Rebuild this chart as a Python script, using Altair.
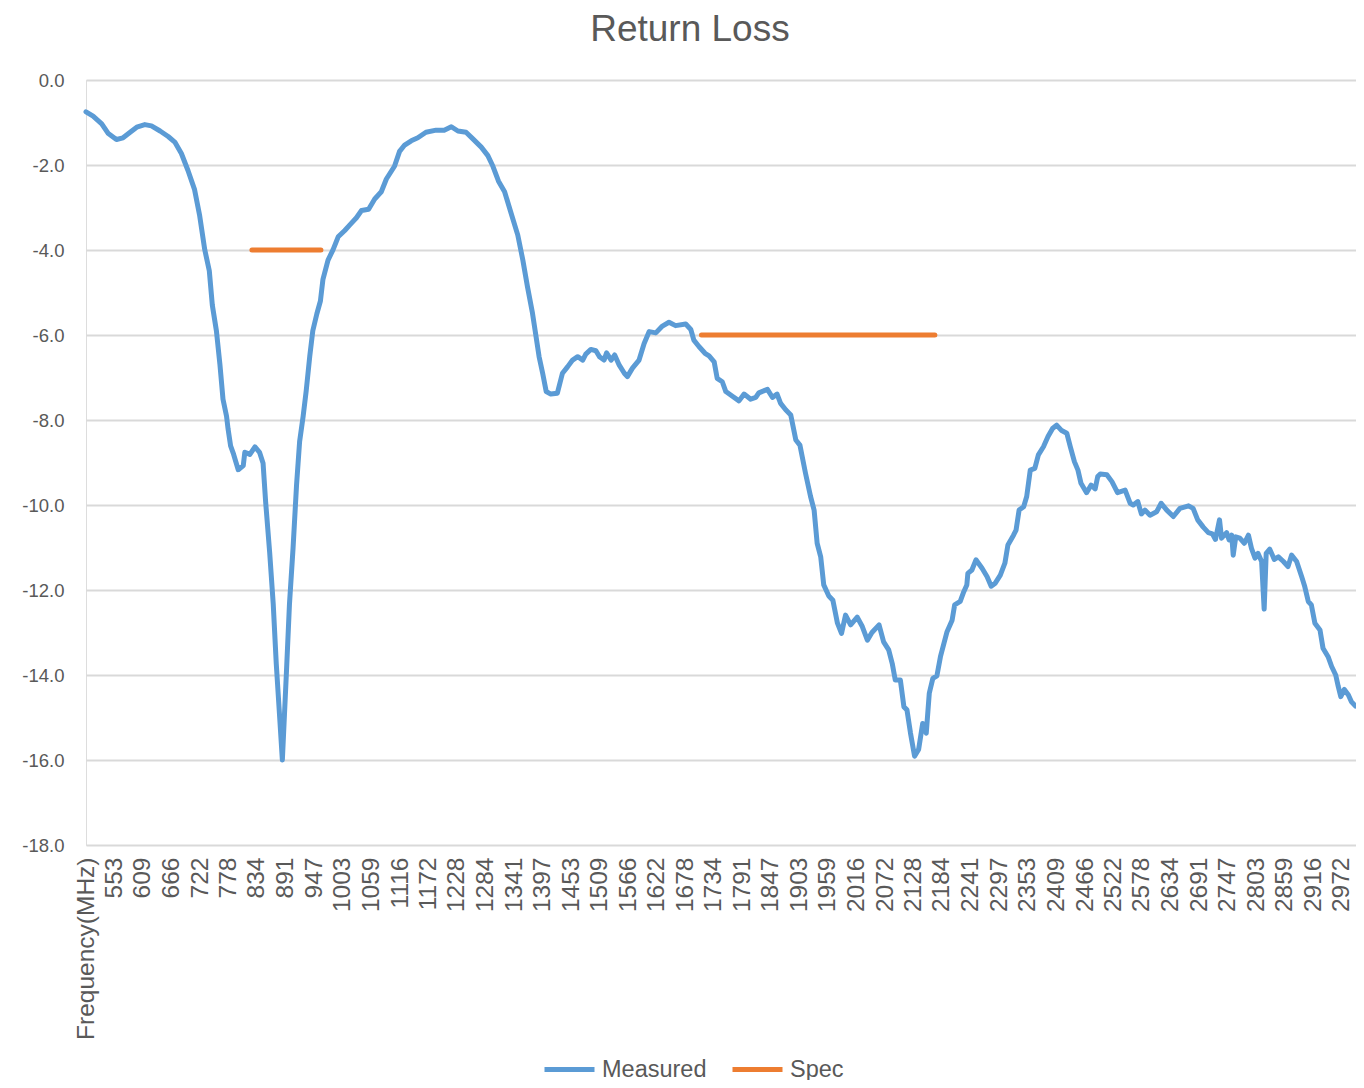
import altair as alt
import pandas as pd

TITLE = "Return Loss"
FONT = "Liberation Sans"
GREY = "#595959"

x_labels = ["Frequency(MHz)", "553", "609", "666", "722", "778", "834", "891", "947",
            "1003", "1059", "1116", "1172", "1228", "1284", "1341", "1397", "1453",
            "1509", "1566", "1622", "1678", "1734", "1791", "1847", "1903", "1959",
            "2016", "2072", "2128", "2184", "2241", "2297", "2353", "2409", "2466",
            "2522", "2578", "2634", "2691", "2747", "2803", "2859", "2916", "2972"]
x_first_mhz = 497
y_ticks = [0.0, -2.0, -4.0, -6.0, -8.0, -10.0, -12.0, -14.0, -16.0, -18.0]

meas_mhz_a = [497, 511, 528, 541, 557, 570, 584, 597, 613, 626, 643, 659, 672, 685, 698,
              711, 721, 731, 740, 746, 754, 761, 767, 774, 777, 782, 788, 797, 807, 810,
              820, 830, 839, 846, 851, 859, 866, 872, 879, 884]
meas_db_a = [-0.75, -0.85, -1.03, -1.26, -1.40, -1.36, -1.23, -1.11, -1.05, -1.08, -1.20,
             -1.33, -1.46, -1.73, -2.13, -2.58, -3.19, -3.99, -4.49, -5.30, -5.90, -6.70,
             -7.51, -7.91, -8.21, -8.61, -8.81, -9.17, -9.07, -8.76, -8.81, -8.63, -8.76,
             -9.02, -9.92, -11.12, -12.33, -13.74, -15.05, -16.0]

meas_mhz_b = [892, 898, 905, 912, 918, 925, 931, 938, 944, 952, 959, 964, 974, 984, 994,
              1007, 1017, 1030, 1040, 1054, 1066, 1079, 1089, 1105, 1115, 1125, 1138, 1151,
              1167, 1187, 1203, 1217, 1230, 1246, 1259, 1276, 1289, 1299, 1310]
meas_db_b = [-13.94, -12.33, -11.03, -9.52, -8.51, -7.91, -7.31, -6.50, -5.90, -5.50, -5.20,
             -4.69, -4.24, -3.99, -3.69, -3.54, -3.41, -3.24, -3.07, -3.04, -2.80, -2.63,
             -2.33, -2.03, -1.68, -1.53, -1.43, -1.36, -1.23, -1.18, -1.18, -1.10, -1.20,
             -1.23, -1.38, -1.58, -1.78, -2.03, -2.38]

meas_mhz_c = [1322, 1335, 1348, 1358, 1367, 1377, 1384, 1390, 1397, 1404, 1413, 1426, 1436,
              1446, 1456, 1466, 1476, 1482, 1492, 1502, 1509, 1518, 1523, 1532, 1539, 1548,
              1558, 1564, 1574, 1587, 1597, 1607, 1620, 1633, 1646, 1659, 1679, 1689, 1695,
              1705, 1717, 1725, 1735, 1741]
meas_db_c = [-2.63, -3.14, -3.65, -4.24, -4.86, -5.49, -6.04, -6.51, -6.90, -7.33, -7.39,
             -7.37, -6.90, -6.75, -6.59, -6.51, -6.59, -6.45, -6.34, -6.37, -6.51, -6.59,
             -6.42, -6.59, -6.47, -6.71, -6.90, -6.98, -6.78, -6.59, -6.20, -5.92, -5.95,
             -5.79, -5.70, -5.78, -5.74, -5.87, -6.12, -6.27, -6.43, -6.49, -6.63, -7.02]

meas_mhz_d = [1751, 1758, 1771, 1784, 1794, 1807, 1817, 1823, 1840, 1850, 1859, 1866, 1876,
              1886, 1896, 1904, 1915, 1925, 1932, 1938, 1945, 1951, 1961, 1969, 1978, 1986,
              1994, 2004, 2017, 2027, 2037, 2046, 2060, 2069, 2079, 2086, 2092, 2102, 2109,
              2115, 2122, 2130, 2138, 2146, 2153, 2159, 2166, 2174, 2181]
meas_db_d = [-7.10, -7.33, -7.44, -7.55, -7.39, -7.51, -7.47, -7.36, -7.28, -7.47, -7.39,
             -7.61, -7.76, -7.88, -8.47, -8.59, -9.25, -9.80, -10.12, -10.90, -11.22, -11.88,
             -12.14, -12.24, -12.78, -13.02, -12.59, -12.82, -12.64, -12.86, -13.18, -13.00,
             -12.82, -13.22, -13.41, -13.73, -14.12, -14.12, -14.75, -14.82, -15.37, -15.91,
             -15.75, -15.14, -15.37, -14.43, -14.08, -14.02, -13.57]

meas_mhz_e = [2188, 2194, 2204, 2209, 2220, 2227, 2233, 2235, 2243, 2251, 2263, 2273, 2281,
              2289, 2299, 2308, 2314, 2325, 2330, 2336, 2345, 2351, 2358, 2367, 2374, 2384,
              2393, 2402, 2410, 2419, 2430, 2437, 2445, 2452, 2458, 2469, 2478, 2486, 2491,
              2496, 2509, 2519, 2530, 2545, 2555, 2561, 2570, 2577, 2584, 2594, 2607, 2616,
              2627, 2640, 2653, 2670, 2679]
meas_db_e = [-13.25, -12.98, -12.71, -12.35, -12.27, -12.04, -11.88, -11.61, -11.53, -11.29,
             -11.49, -11.69, -11.91, -11.84, -11.65, -11.37, -10.94, -10.71, -10.59, -10.12,
             -10.04, -9.80, -9.18, -9.14, -8.82, -8.63, -8.39, -8.20, -8.12, -8.24, -8.31,
             -8.63, -8.98, -9.18, -9.49, -9.71, -9.53, -9.62, -9.33, -9.27, -9.29, -9.45,
             -9.71, -9.65, -9.96, -10.00, -9.92, -10.21, -10.12, -10.24, -10.16, -9.96,
             -10.12, -10.27, -10.08, -10.02, -10.08]

meas_mhz_f = [2688, 2699, 2709, 2717, 2723, 2731, 2735, 2745, 2750, 2755, 2758, 2763, 2771,
              2780, 2788, 2794, 2801, 2807, 2814, 2819, 2823, 2830, 2839, 2847, 2857, 2866,
              2873, 2883, 2893, 2899, 2906, 2912, 2919, 2929, 2935, 2945, 2952, 2960, 2965,
              2970, 2977, 2985, 2991, 2999]
meas_db_f = [-10.35, -10.52, -10.65, -10.68, -10.81, -10.35, -10.78, -10.65, -10.82, -10.71,
             -11.18, -10.75, -10.78, -10.90, -10.71, -11.02, -11.25, -11.14, -11.33, -12.45,
             -11.14, -11.04, -11.28, -11.22, -11.33, -11.45, -11.18, -11.33, -11.69, -11.92,
             -12.27, -12.35, -12.78, -12.94, -13.37, -13.57, -13.80, -14.00, -14.27, -14.51,
             -14.34, -14.47, -14.63, -14.73]

meas_mhz = meas_mhz_a + meas_mhz_b + meas_mhz_c + meas_mhz_d + meas_mhz_e + meas_mhz_f
meas_db = meas_db_a + meas_db_b + meas_db_c + meas_db_d + meas_db_e + meas_db_f
assert len(meas_mhz) == len(meas_db)

spec_mhz = [824, 960, 1710, 2170]
spec_db = [-4.0, -4.0, -6.0, -6.0]
spec_seg = ["s1", "s1", "s2", "s2"]

rows = [{"mhz": f, "db": v, "series": "Measured", "seg": "m"} for f, v in zip(meas_mhz, meas_db)]
rows += [{"mhz": f, "db": v, "series": "Spec", "seg": s} for f, v, s in zip(spec_mhz, spec_db, spec_seg)]
df = pd.DataFrame(rows)

x_tick_values = [x_first_mhz] + [int(s) for s in x_labels[1:]]

chart = alt.Chart(df).mark_line(
    strokeWidth=5, strokeCap="round", strokeJoin="round"
).encode(
    x=alt.X("mhz:Q",
            scale=alt.Scale(domain=[x_first_mhz, 3000], nice=False, zero=False),
            axis=alt.Axis(values=x_tick_values, format="d",
                          labelExpr=f"datum.value < 500 ? '{x_labels[0]}' : datum.label",
                          labelAngle=270, labelFontSize=24.5, labelColor=GREY, labelFont=FONT,
                          labelPadding=12, labelLimit=400, ticks=False, tickSize=0,
                          domain=False, grid=False, title=None, labelOverlap=False,
                          labelBound=False, labelFlush=False)),
    y=alt.Y("db:Q",
            scale=alt.Scale(domain=[-18, 0], nice=False, zero=False),
            axis=alt.Axis(values=y_ticks,
                          labelExpr="(datum.value < 0 ? '-' : '') + format(abs(datum.value), '.1f')",
                          labelFontSize=18.5, labelColor=GREY, labelFont=FONT, labelPadding=22,
                          ticks=False, tickSize=0, domain=False, grid=True,
                          gridColor="#d9d9d9", gridWidth=1.8, title=None)),
    color=alt.Color("series:N",
                    scale=alt.Scale(domain=["Measured", "Spec"], range=["#5B9BD5", "#ED7D31"]),
                    legend=alt.Legend(title=None, orient="none", legendX=456, legendY=962,
                                      direction="horizontal", symbolType="stroke",
                                      symbolSize=2500, symbolStrokeWidth=5,
                                      labelFontSize=23.5, labelFont=FONT, labelColor=GREY,
                                      labelOffset=5, columnPadding=15, padding=0)),
    detail="seg:N",
).properties(
    width=1270,
    height=765,
    autosize=alt.AutoSizeParams(type="none"),
    padding={"left": 78, "top": 72, "right": 0, "bottom": 235},
    title=alt.Title(TITLE, fontSize=37, font=FONT, color=GREY, fontWeight="normal",
                    anchor="middle", frame="bounds", offset=22),
).configure_view(stroke=None).configure(background="white")

chart.save("out.html", embed_options={"renderer": "svg", "actions": False})
